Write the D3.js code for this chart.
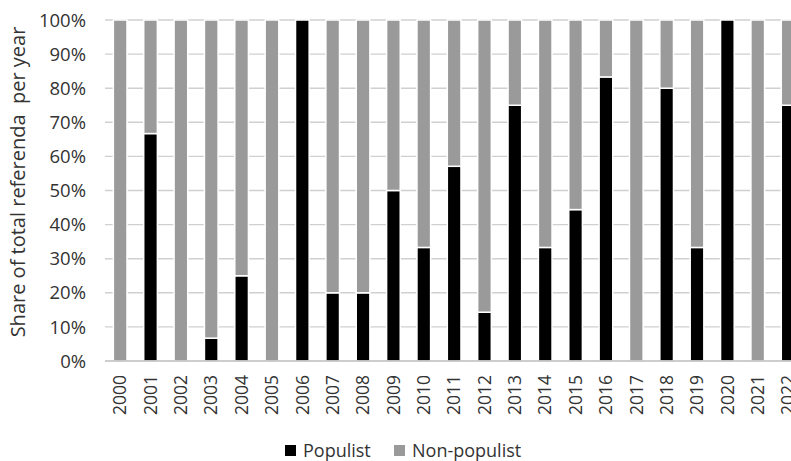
<!DOCTYPE html>
<html>
<head>
<meta charset="utf-8">
<script src="https://cdn.jsdelivr.net/npm/d3@7/dist/d3.min.js"></script>
<style>
  html, body { margin: 0; padding: 0; background: #fff; }
  svg { display: block; font-family: "Open Sans", sans-serif; }
</style>
</head>
<body>
<svg id="chart" width="791" height="461"></svg>
<script>
const years = ["2000","2001","2002","2003","2004","2005","2006","2007","2008","2009","2010","2011",
               "2012","2013","2014","2015","2016","2017","2018","2019","2020","2021","2022"];
const populist = [0, 66.7, 0, 6.7, 25, 0, 100, 20, 20, 50, 33.3, 57.1,
                  14.3, 75, 33.3, 44.4, 83.3, 0, 80, 33.3, 100, 0, 75];
const nonPopulist = populist.map(v => 100 - v);
const yTicks = [0, 10, 20, 30, 40, 50, 60, 70, 80, 90, 100];
const seriesNames = ["Populist", "Non-populist"];
const seriesColors = ["#000000", "#9a9a9a"];
const yTitle = "Share of total referenda  per year";

const svg = d3.select("#chart");
const plotLeft = 105, plotTop = 20, plotBottom = 361;
const step = 30.36;
const plotRight = plotLeft + step * years.length;
const textColor = "#333333";

const x = d3.scaleBand().domain(years).range([plotLeft, plotRight]).paddingInner(0.6).paddingOuter(0.3);
const y = d3.scaleLinear().domain([0, 100]).range([plotBottom, plotTop]);

// gridlines
svg.append("g").selectAll("line").data(yTicks.filter(t => t > 0)).join("line")
  .attr("x1", plotLeft).attr("x2", plotRight)
  .attr("y1", d => y(d)).attr("y2", d => y(d))
  .attr("stroke", "#d0d0d0").attr("stroke-width", 1.4);

// stacked data
const rows = years.map((yr, i) => ({year: yr, Populist: populist[i], "Non-populist": nonPopulist[i]}));
const stack = d3.stack().keys(seriesNames)(rows);

const bw = x.bandwidth();
svg.append("g").selectAll("g").data(stack).join("g")
  .attr("fill", (d, i) => seriesColors[i])
  .selectAll("rect").data(d => d.filter(s => s[1] - s[0] > 0)).join("rect")
  .attr("x", d => x(d.data.year) - 0.75)
  .attr("width", bw + 1.5)
  .attr("y", d => y(d[1]))
  .attr("height", d => y(d[0]) - y(d[1]))
  .attr("stroke", "#ffffff").attr("stroke-width", 1.5);

// x axis line
svg.append("line").attr("x1", plotLeft).attr("x2", plotRight)
  .attr("y1", plotBottom).attr("y2", plotBottom)
  .attr("stroke", "#bdbdbd").attr("stroke-width", 1.4);

// y tick labels
svg.append("g").selectAll("text").data(yTicks).join("text")
  .attr("x", 86).attr("y", d => y(d)).attr("dy", "0.36em")
  .attr("text-anchor", "end").attr("font-size", 18.5).attr("fill", textColor)
  .text(d => d + "%");

// x tick labels
svg.append("g").selectAll("text").data(years).join("text")
  .attr("transform", d => `translate(${x(d) + bw / 2 + 6.2},${plotBottom + 14}) rotate(-90)`)
  .attr("text-anchor", "end").attr("font-size", 17.5).attr("fill", textColor)
  .text(d => d);

// y title
svg.append("text")
  .attr("transform", `translate(25,182) rotate(-90)`)
  .attr("text-anchor", "middle").attr("font-size", 20).attr("fill", textColor)
  .style("white-space", "pre")
  .text(yTitle);

// legend
const legendX = [285, 394];
const lg = svg.append("g").selectAll("g").data(seriesNames).join("g")
  .attr("transform", (d, i) => `translate(${legendX[i]},445)`);
lg.append("rect").attr("width", 11).attr("height", 11).attr("fill", (d, i) => seriesColors[i]);
lg.append("text").attr("x", 18).attr("y", 5.5).attr("dy", "0.36em")
  .attr("font-size", 18).attr("fill", textColor).text(d => d);
</script>
</body>
</html>
